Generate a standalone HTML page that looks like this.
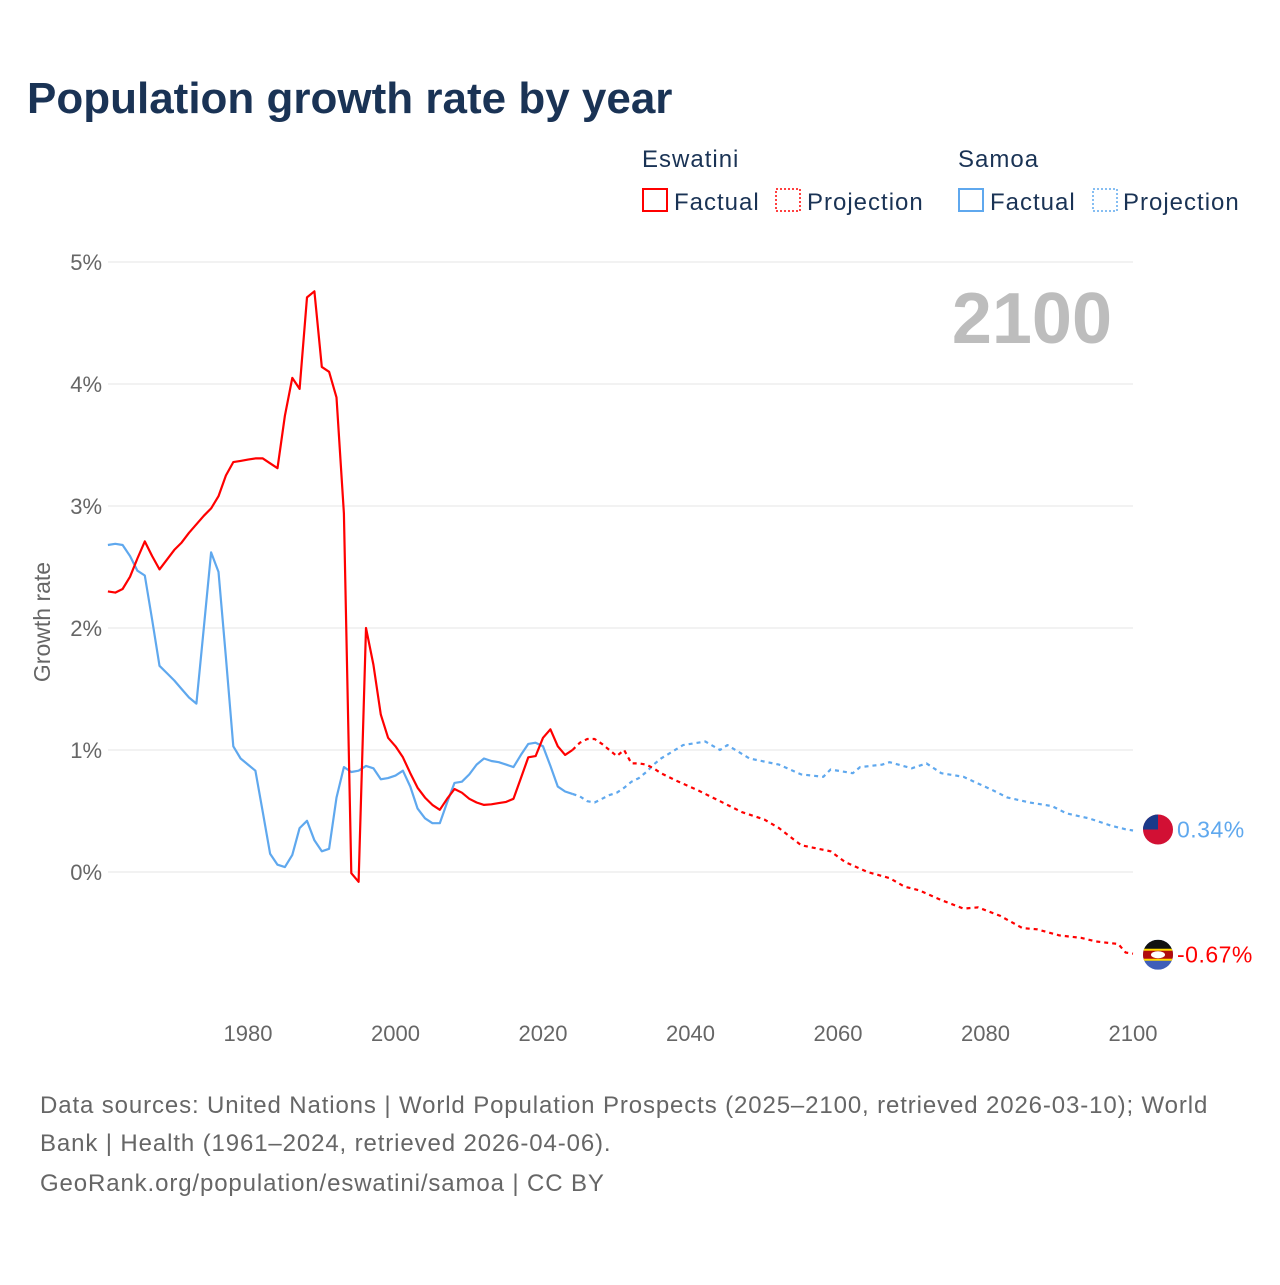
<!DOCTYPE html>
<html><head><meta charset="utf-8"><style>
body{margin:0;background:#fff;}
svg text{font-family:"Liberation Sans",sans-serif;}
</style></head><body>
<svg id="chart" width="1280" height="1280" viewBox="0 0 1280 1280" xmlns="http://www.w3.org/2000/svg">
<text x="27" y="113" font-size="44" font-weight="bold" fill="#1a3355">Population growth rate by year</text>
<g font-size="24" fill="#1a3355" letter-spacing="1">
<text x="642" y="167" fill="#1a3355">Eswatini</text>
<text x="958" y="167" fill="#1a3355">Samoa</text>
<g><rect x="643" y="189" width="24" height="22" fill="none" stroke="#f00" stroke-width="2"/><text x="674" y="210" fill="#1a3355">Factual</text></g>
<g><rect x="776" y="189" width="24" height="22" fill="none" stroke="#f00" stroke-width="1.5" stroke-dasharray="2,2"/><text x="807" y="210" fill="#1a3355">Projection</text></g>
<g><rect x="959" y="189" width="24" height="22" fill="none" stroke="#5fa8ee" stroke-width="2"/><text x="990" y="210" fill="#1a3355">Factual</text></g>
<g><rect x="1093" y="189" width="24" height="22" fill="none" stroke="#5fa8ee" stroke-width="1.5" stroke-dasharray="2,2"/><text x="1123" y="210" fill="#1a3355">Projection</text></g>
</g>
<text x="1112" y="343" font-size="72" font-weight="bold" fill="#bdbdbd" text-anchor="end">2100</text>
<text transform="translate(50,622) rotate(-90)" font-size="23" fill="#666" text-anchor="middle">Growth rate</text>
<g id="grid"></g><g id="series"></g><g id="ticks"></g>
<g font-size="24" fill="#666" letter-spacing="0.88">
<text x="40" y="1113">Data sources: United Nations | World Population Prospects (2025–2100, retrieved 2026-03-10); World</text>
<text x="40" y="1151">Bank | Health (1961–2024, retrieved 2026-04-06).</text>
<text x="40" y="1191">GeoRank.org/population/eswatini/samoa | CC BY</text>
</g>
</svg>
<script>
const yTicks=[0,1,2,3,4,5];
const yTickLabels=["0%","1%","2%","3%","4%","5%"];
const xTicks=[1980,2000,2020,2040,2060,2080,2100];
const factYears=[];for(let y=1961;y<=2024;y++)factYears.push(y);
const eswFact=[2.30,2.29,2.32,2.42,2.57,2.71,2.59,2.48,2.56,2.64,2.70,2.78,2.85,2.92,2.98,3.08,3.25,3.36,3.37,3.38,3.39,3.39,3.35,3.31,3.74,4.05,3.96,4.71,4.76,4.14,4.10,3.89,2.94,-0.01,-0.08,2.00,1.70,1.29,1.10,1.03,0.94,0.81,0.69,0.61,0.55,0.51,0.60,0.68,0.65,0.60,0.57,0.55,0.555,0.565,0.575,0.60,0.77,0.94,0.95,1.10,1.17,1.03,0.96,1.00];
const samFact=[2.68,2.69,2.68,2.59,2.47,2.43,2.07,1.69,1.63,1.57,1.50,1.43,1.38,2.00,2.62,2.46,1.76,1.03,0.93,0.88,0.83,0.49,0.15,0.06,0.04,0.14,0.36,0.42,0.26,0.17,0.19,0.61,0.86,0.82,0.83,0.87,0.85,0.76,0.77,0.79,0.83,0.70,0.52,0.44,0.40,0.40,0.57,0.73,0.74,0.80,0.88,0.93,0.91,0.90,0.88,0.86,0.96,1.05,1.06,1.03,0.87,0.70,0.66,0.64];
const eswProjYears=[2024,2025,2026,2027,2028,2029,2030,2031,2032,2033,2034,2035,2036,2038,2041,2044,2047,2050,2052,2055,2059,2061,2064,2067,2069,2071,2074,2077,2079,2082,2085,2087,2090,2093,2095,2098,2099,2100];
const eswProj=[1.00,1.06,1.09,1.09,1.05,1.00,0.95,1.00,0.89,0.89,0.88,0.85,0.81,0.75,0.67,0.58,0.49,0.43,0.36,0.22,0.17,0.08,0.00,-0.05,-0.12,-0.15,-0.23,-0.30,-0.29,-0.36,-0.46,-0.47,-0.52,-0.54,-0.57,-0.59,-0.66,-0.67];
const samProjYears=[2024,2025,2026,2027,2028,2029,2030,2031,2032,2033,2034,2035,2036,2039,2042,2044,2045,2048,2052,2055,2058,2059,2062,2063,2066,2067,2070,2072,2074,2077,2081,2083,2086,2089,2091,2094,2097,2099,2100];
const samProj=[0.64,0.62,0.58,0.57,0.60,0.63,0.65,0.69,0.74,0.77,0.82,0.88,0.93,1.04,1.07,1.00,1.04,0.93,0.88,0.80,0.78,0.84,0.81,0.86,0.88,0.90,0.85,0.89,0.81,0.78,0.67,0.61,0.57,0.54,0.48,0.44,0.38,0.35,0.34];
const xS=y=>248+(y-1980)*7.375;
const yS=v=>872-v*122;
const NS="http://www.w3.org/2000/svg";
function mk(tag,attrs,parent){const e=document.createElementNS(NS,tag);for(const k in attrs)e.setAttribute(k,attrs[k]);parent.appendChild(e);return e;}
const grid=document.getElementById('grid'),ticks=document.getElementById('ticks'),series=document.getElementById('series');
yTicks.forEach((t,i)=>{
  const l=mk('line',{x1:108,x2:1133,y1:yS(t),y2:yS(t),stroke:'#e6e6e6','stroke-width':1},grid);
  
  
  const tx=mk('text',{x:102,y:yS(t)+8,'font-size':22,fill:'#666','text-anchor':'end'},ticks);
  tx.textContent=yTickLabels[i];
  
  
});
xTicks.forEach(t=>{
  const tx=mk('text',{x:xS(t),y:1041,'font-size':22,fill:'#666','text-anchor':'middle'},ticks);
  tx.textContent=t;
  
  
});
function line(xs,vs,color,dash,name){
  const d=xs.map((y,i)=>(i?'L':'M')+xS(y).toFixed(1)+','+yS(vs[i]).toFixed(1)).join('');
  const p=mk('path',{d:d,fill:'none',stroke:color,'stroke-width':2.2,'stroke-linejoin':'round'},series);
  if(dash)p.setAttribute('stroke-dasharray','4,4');
  
  
}
line(samProjYears,samProj,'#5fa8ee',true,'samoa-projection-line');
line(eswProjYears,eswProj,'#ff0000',true,'eswatini-projection-line');
line(factYears,samFact,'#5fa8ee',false,'samoa-factual-line');
line(factYears,eswFact,'#ff0000',false,'eswatini-factual-line');
const sv=samProj[samProj.length-1],ev=eswProj[eswProj.length-1];
const sy=yS(sv)-1,ey=yS(ev)+1;
const sg=mk('g',{},series);


mk('circle',{cx:1158,cy:sy,r:15,fill:'#d21034'},sg);
mk('path',{d:`M1143,${sy} A15,15 0 0 1 1158,${sy-15} L1158,${sy} Z`,fill:'#1a3a8a'},sg);
const st=mk('text',{x:1177,y:sy+8,'font-size':23,fill:'#5fa8ee','letter-spacing':0.5},series);
st.textContent=sv.toFixed(2)+'%';


const eg=mk('g',{},series);


const cp=mk('clipPath',{id:'ec'},eg);mk('circle',{cx:1158,cy:ey,r:15},cp);
const inner=mk('g',{'clip-path':'url(#ec)'},eg);
mk('rect',{x:1143,y:ey-15,width:30,height:30,fill:'#3e5eb9'},inner);
mk('rect',{x:1143,y:ey-15,width:30,height:12,fill:'#111'},inner);
mk('rect',{x:1143,y:ey-5,width:30,height:10,fill:'#b10c0c'},inner);
mk('rect',{x:1143,y:ey-6,width:30,height:2,fill:'#ffd900'},inner);
mk('rect',{x:1143,y:ey+4,width:30,height:2,fill:'#ffd900'},inner);
mk('ellipse',{cx:1158,cy:ey,rx:7,ry:3.5,fill:'#fff'},inner);
const et=mk('text',{x:1177,y:ey+8,'font-size':23,fill:'#ff0000','letter-spacing':0.5},series);
et.textContent=ev.toFixed(2)+'%';


</script>
</body></html>
